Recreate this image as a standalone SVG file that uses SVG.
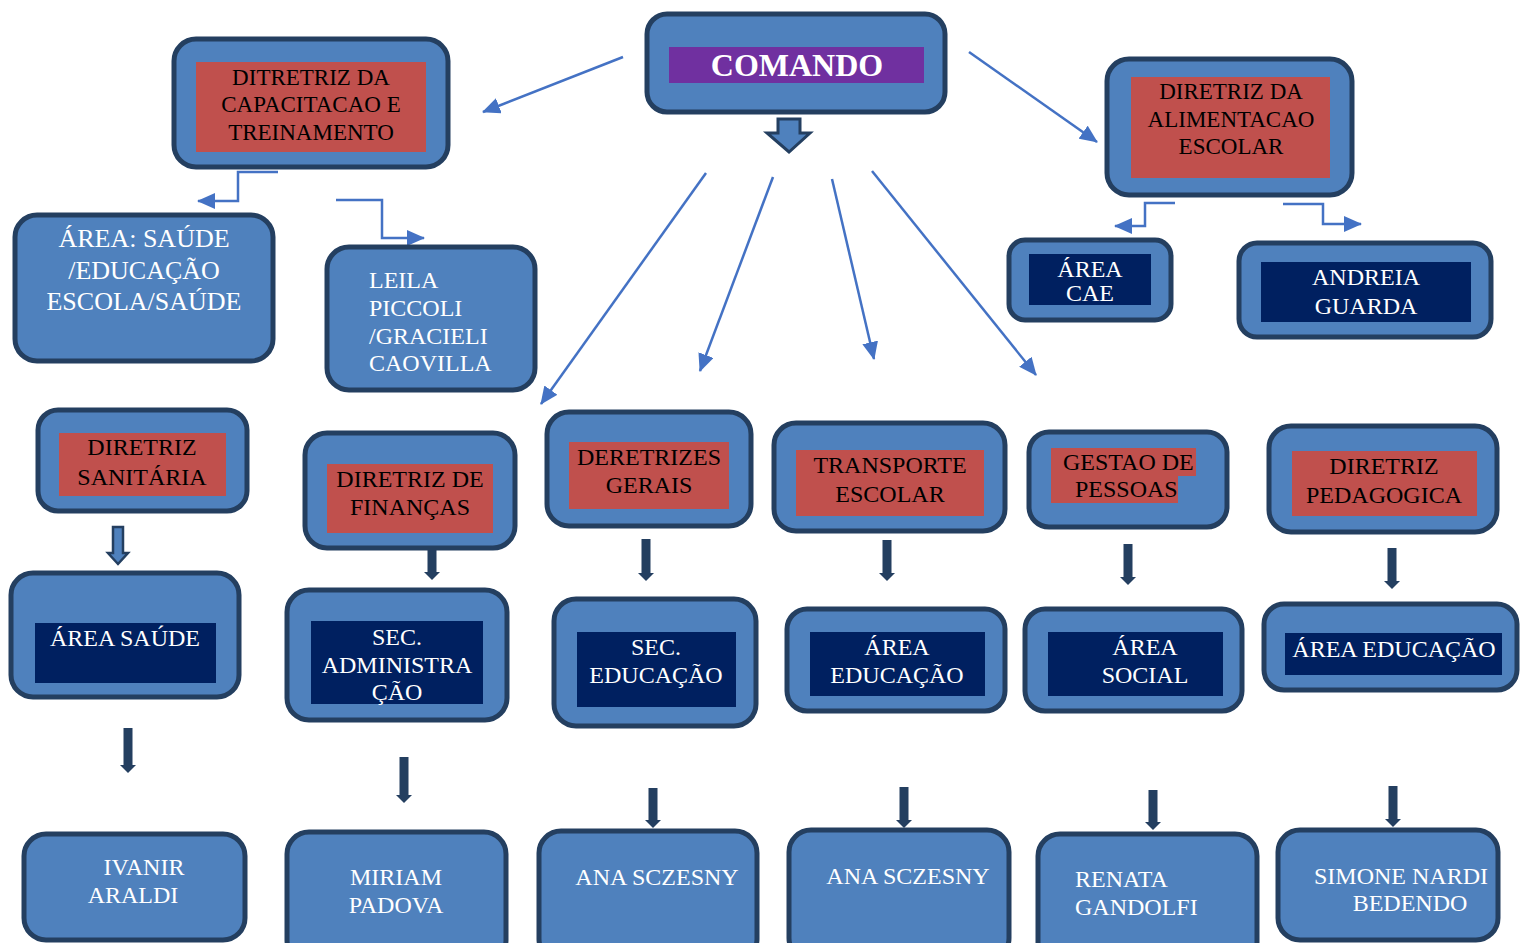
<svg xmlns="http://www.w3.org/2000/svg" width="1520" height="943" viewBox="0 0 1520 943">
<style>
.box{fill:#4F81BD;stroke:#243F60;stroke-width:5}
.red{fill:#C0504D}
.navy{fill:#002060}
.t{font-family:"Liberation Serif","Times New Roman",serif;font-size:24px;text-anchor:middle}
.s{text-anchor:start}
.k{fill:#000}
.w{fill:#fff}
.conn{stroke:#4472C4;stroke-width:2.5;fill:none;marker-end:url(#ah)}
.blk{fill:#243F60}
</style>
<defs>
<marker id="ah" markerUnits="userSpaceOnUse" markerWidth="18" markerHeight="16" refX="17" refY="8" orient="auto">
<path d="M0,0 L18,8 L0,16 Z" fill="#4472C4"/>
</marker>
</defs>
<rect width="1520" height="943" fill="#fff"/>
<g id="connectors">
<path class="conn" d="M623,57 L483,112"/>
<path class="conn" d="M969,52 L1097,142"/>
<path class="conn" d="M706,173 L541,404"/>
<path class="conn" d="M773,177 L700,371"/>
<path class="conn" d="M832,179 L874,359"/>
<path class="conn" d="M872,171 L1036,375"/>
<path class="conn" d="M278,172 H238 V201 H198"/>
<path class="conn" d="M336,200 H382 V238 H424"/>
<path class="conn" d="M1175,203 H1145 V226 H1115"/>
<path class="conn" d="M1283,204 H1323 V224 H1361"/>
<path d="M778,119 H800 V133 H810 L789,152 L767,133 H778 Z" fill="#4F81BD" stroke="#243F60" stroke-width="3"/>
<path d="M113,527 H123 V553 H128 L118,564 L108,553 H113 Z" fill="#4F81BD" stroke="#243F60" stroke-width="2.5"/>
<path class="blk" d="M427.5,550 H436.5 V572 H440 L432,580 L424,572 H427.5 Z"/>
<path class="blk" d="M641.5,539 H650.5 V573 H654 L646,581 L638,573 H641.5 Z"/>
<path class="blk" d="M882.5,540 H891.5 V573 H895 L887,581 L879,573 H882.5 Z"/>
<path class="blk" d="M1123.5,544 H1132.5 V577 H1136 L1128,585 L1120,577 H1123.5 Z"/>
<path class="blk" d="M1387.5,548 H1396.5 V581 H1400 L1392,589 L1384,581 H1387.5 Z"/>
<path class="blk" d="M123.5,728 H132.5 V765 H136 L128,773 L120,765 H123.5 Z"/>
<path class="blk" d="M399.5,757 H408.5 V795 H412 L404,803 L396,795 H399.5 Z"/>
<path class="blk" d="M648.5,788 H657.5 V820 H661 L653,828 L645,820 H648.5 Z"/>
<path class="blk" d="M899.5,787 H908.5 V820 H912 L904,828 L896,820 H899.5 Z"/>
<path class="blk" d="M1148.5,790 H1157.5 V822 H1161 L1153,830 L1145,822 H1148.5 Z"/>
<path class="blk" d="M1388.5,786 H1397.5 V819 H1401 L1393,827 L1385,819 H1388.5 Z"/>
</g>
<g id="comando">
<rect class="box" x="647" y="14" width="298" height="98" rx="20"/>
<rect x="669" y="47" width="255" height="36" fill="#7030A0"/>
<text class="t w" x="797" y="76" font-size="32" font-weight="bold" style="font-size:32px">COMANDO</text>
</g>
<g id="capacitacao">
<rect class="box" x="174" y="39" width="274" height="128" rx="22"/>
<rect class="red" x="196" y="62" width="230" height="90"/>
<text class="t k" style="font-size:23px"><tspan x="311" y="85">DITRETRIZ DA</tspan><tspan x="311" y="112">CAPACITACAO E</tspan><tspan x="311" y="140">TREINAMENTO</tspan></text>
</g>
<g id="alimentacao">
<rect class="box" x="1107" y="59" width="245" height="136" rx="22"/>
<rect class="red" x="1131" y="77" width="199" height="101"/>
<text class="t k" style="font-size:23px"><tspan x="1231" y="99">DIRETRIZ DA</tspan><tspan x="1231" y="127">ALIMENTACAO</tspan><tspan x="1231" y="154">ESCOLAR</tspan></text>
</g>
<g id="area-cae">
<rect class="box" x="1009" y="240" width="162" height="80" rx="16"/>
<rect class="navy" x="1029" y="254" width="122" height="51"/>
<text class="t w"><tspan x="1090" y="277">ÁREA</tspan><tspan x="1090" y="301">CAE</tspan></text>
</g>
<g id="andreia">
<rect class="box" x="1239" y="243" width="252" height="94" rx="18"/>
<rect class="navy" x="1261" y="262" width="210" height="60"/>
<text class="t w"><tspan x="1366" y="285">ANDREIA</tspan><tspan x="1366" y="314">GUARDA</tspan></text>
</g>
<g id="area-saude-educacao">
<rect class="box" x="15" y="215" width="258" height="146" rx="22"/>
<text class="t w" style="font-size:26px"><tspan x="144" y="247">ÁREA: SAÚDE</tspan><tspan x="144" y="279">/EDUCAÇÃO</tspan><tspan x="144" y="310">ESCOLA/SAÚDE</tspan></text>
</g>
<g id="leila">
<rect class="box" x="327" y="247" width="208" height="143" rx="22"/>
<text class="t s w"><tspan x="369" y="288">LEILA</tspan><tspan x="369" y="316">PICCOLI</tspan><tspan x="369" y="344">/GRACIELI</tspan><tspan x="369" y="371">CAOVILLA</tspan></text>
</g>
<g id="sanitaria">
<rect class="box" x="38" y="410" width="209" height="101" rx="20"/>
<rect class="red" x="59" y="433" width="167" height="63"/>
<text class="t k"><tspan x="142" y="455">DIRETRIZ</tspan><tspan x="142" y="485">SANITÁRIA</tspan></text>
</g>
<g id="financas">
<rect class="box" x="305" y="433" width="210" height="115" rx="22"/>
<rect class="red" x="327" y="464" width="166" height="69"/>
<text class="t k"><tspan x="410" y="487">DIRETRIZ DE</tspan><tspan x="410" y="515">FINANÇAS</tspan></text>
</g>
<g id="gerais">
<rect class="box" x="547" y="412" width="204" height="114" rx="22"/>
<rect class="red" x="569" y="442" width="160" height="67"/>
<text class="t k"><tspan x="649" y="465">DERETRIZES</tspan><tspan x="649" y="493">GERAIS</tspan></text>
</g>
<g id="transporte">
<rect class="box" x="774" y="423" width="231" height="108" rx="22"/>
<rect class="red" x="796" y="450" width="188" height="66"/>
<text class="t k"><tspan x="890" y="473">TRANSPORTE</tspan><tspan x="890" y="502">ESCOLAR</tspan></text>
</g>
<g id="gestao">
<rect class="box" x="1029" y="432" width="198" height="95" rx="20"/>
<path class="red" d="M1051,448 H1196 V476 H1178 V503 H1051 Z"/>
<text class="t s k"><tspan x="1063" y="470">GESTAO DE</tspan><tspan x="1075" y="497">PESSOAS</tspan></text>
</g>
<g id="pedagogica">
<rect class="box" x="1269" y="426" width="228" height="106" rx="22"/>
<rect class="red" x="1292" y="451" width="185" height="65"/>
<text class="t k"><tspan x="1384" y="474">DIRETRIZ</tspan><tspan x="1384" y="503">PEDAGOGICA</tspan></text>
</g>
<g id="area-saude">
<rect class="box" x="11" y="573" width="228" height="124" rx="22"/>
<rect class="navy" x="35" y="623" width="181" height="60"/>
<text class="t w" x="125" y="646">ÁREA SAÚDE</text>
</g>
<g id="sec-administracao">
<rect class="box" x="287" y="590" width="220" height="130" rx="22"/>
<rect class="navy" x="311" y="621" width="172" height="83"/>
<text class="t w"><tspan x="397" y="645">SEC.</tspan><tspan x="397" y="673">ADMINISTRA</tspan><tspan x="397" y="700">ÇÃO</tspan></text>
</g>
<g id="sec-educacao">
<rect class="box" x="554" y="599" width="202" height="127" rx="22"/>
<rect class="navy" x="577" y="632" width="159" height="75"/>
<text class="t w"><tspan x="656" y="655">SEC.</tspan><tspan x="656" y="683">EDUCAÇÃO</tspan></text>
</g>
<g id="area-educacao-transporte">
<rect class="box" x="787" y="609" width="218" height="102" rx="20"/>
<rect class="navy" x="810" y="632" width="175" height="64"/>
<text class="t w"><tspan x="897" y="655">ÁREA</tspan><tspan x="897" y="683">EDUCAÇÃO</tspan></text>
</g>
<g id="area-social">
<rect class="box" x="1025" y="609" width="217" height="102" rx="20"/>
<rect class="navy" x="1048" y="632" width="175" height="64"/>
<text class="t w"><tspan x="1145" y="655">ÁREA</tspan><tspan x="1145" y="683">SOCIAL</tspan></text>
</g>
<g id="area-educacao-pedagogica">
<rect class="box" x="1264" y="604" width="253" height="86" rx="20"/>
<rect class="navy" x="1285" y="633" width="217" height="42"/>
<text class="t w" x="1394" y="657">ÁREA EDUCAÇÃO</text>
</g>
<g id="ivanir">
<rect class="box" x="24" y="834" width="221" height="106" rx="22"/>
<text class="t w"><tspan x="144" y="875">IVANIR</tspan><tspan x="133" y="903">ARALDI</tspan></text>
</g>
<g id="miriam">
<rect class="box" x="287" y="832" width="219" height="130" rx="22"/>
<text class="t w"><tspan x="396" y="885">MIRIAM</tspan><tspan x="396" y="913">PADOVA</tspan></text>
</g>
<g id="ana-1">
<rect class="box" x="539" y="831" width="218" height="130" rx="22"/>
<text class="t w" x="657" y="885">ANA SCZESNY</text>
</g>
<g id="ana-2">
<rect class="box" x="789" y="830" width="220" height="130" rx="22"/>
<text class="t w" x="908" y="884">ANA SCZESNY</text>
</g>
<g id="renata">
<rect class="box" x="1038" y="834" width="219" height="130" rx="22"/>
<text class="t s w"><tspan x="1075" y="887">RENATA</tspan><tspan x="1075" y="915">GANDOLFI</tspan></text>
</g>
<g id="simone">
<rect class="box" x="1278" y="830" width="220" height="110" rx="22"/>
<text class="t w"><tspan x="1401" y="884">SIMONE NARDI</tspan><tspan x="1410" y="911">BEDENDO</tspan></text>
</g>
</svg>
